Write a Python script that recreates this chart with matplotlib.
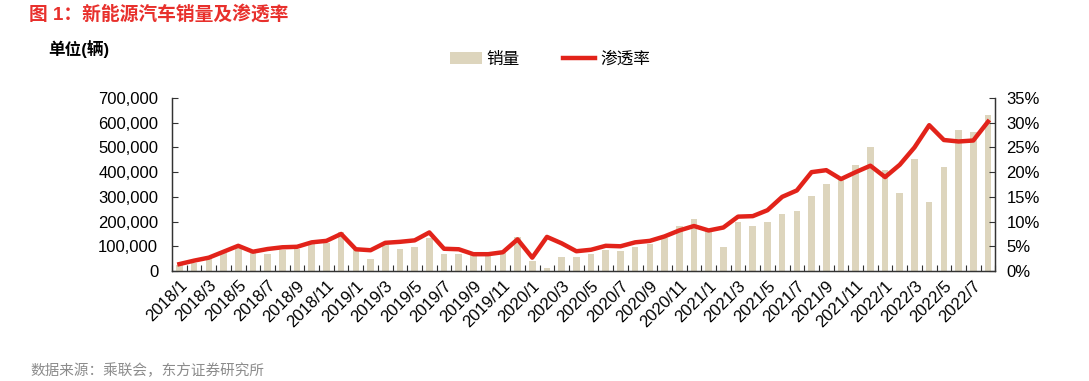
import numpy as np
import matplotlib
matplotlib.use("Agg")
import matplotlib.pyplot as plt
from matplotlib.lines import Line2D
from matplotlib.patches import Patch
from matplotlib.ticker import FuncFormatter, MultipleLocator

plt.rcParams["font.family"] = ["Liberation Sans", "Noto Sans CJK SC", "DejaVu Sans"]

# ---- data --------------------------------------------------------------
months = [f"{y}/{m}" for y in range(2018, 2023) for m in range(1, 13)][:56]

sales = [25000, 31000, 51000, 72000, 92000, 76000, 69000, 85000, 88000, 112000,
         115000, 159000, 85000, 49000, 105000, 89000, 96000, 132000, 68000, 70000,
         65000, 63000, 75000, 136000, 42000, 13000, 55000, 58000, 70000, 86000,
         80000, 99000, 109000, 132000, 182000, 210000, 162000, 99000, 200000, 184000,
         197000, 231000, 244000, 304000, 352000, 368000, 428000, 503000, 410000, 316000,
         453000, 279000, 420000, 571000, 563000, 632000]

penetration = [1.4, 2.1, 2.7, 3.9, 5.1, 3.9, 4.45, 4.8, 4.9, 5.8,
               6.1, 7.5, 4.4, 4.2, 5.7, 5.9, 6.2, 7.8, 4.5, 4.4,
               3.4, 3.4, 3.8, 6.4, 2.7, 6.9, 5.6, 4.0, 4.3, 5.1,
               5.0, 5.8, 6.1, 7.0, 8.2, 9.1, 8.2, 8.8, 11.0, 11.1,
               12.3, 15.0, 16.3, 20.0, 20.4, 18.6, 20.0, 21.3, 19.0, 21.5,
               25.0, 29.5, 26.5, 26.2, 26.4, 30.2]

BAR = "#DDD5BD"
RED = "#E2231A"
AXC = "#333333"
FS = 12

fig = plt.figure(figsize=(10.89, 3.81), dpi=100)
ax = fig.add_axes([0.158, 0.2887, 0.756, 0.4541])
ax2 = ax.twinx()

x = np.arange(len(months))
ax.bar(x, sales, width=0.45, color=BAR, zorder=2)
ax2.plot(x, penetration, color=RED, lw=3.2, solid_joinstyle="round", zorder=3)

ax.set_xlim(-0.5, len(months) - 0.5)
ax.set_ylim(0, 700000)
ax2.set_ylim(0, 35)
ax.yaxis.set_major_locator(MultipleLocator(100000))
ax2.yaxis.set_major_locator(MultipleLocator(5))
ax.yaxis.set_major_formatter(FuncFormatter(lambda v, p: f"{int(v):,}"))
ax2.yaxis.set_major_formatter(FuncFormatter(lambda v, p: f"{int(v)}%"))

# category-boundary ticks, labels every other month
ax.set_xticks(np.arange(-0.5, len(months), 1.0))
ax.set_xticklabels([])
ax.set_xticks(x[::2], minor=True)
ax.set_xticklabels(months[::2], minor=True, rotation=45, ha="right",
                   rotation_mode="anchor", fontsize=FS)
ax.tick_params(axis="x", which="minor", length=0, pad=5)
ax.tick_params(axis="x", which="major", direction="in", length=4, color=AXC)
ax.tick_params(axis="y", direction="in", length=4, labelsize=FS, color=AXC, pad=10)
ax2.tick_params(axis="y", direction="in", length=4, labelsize=FS, color=AXC, pad=8)

for a in (ax, ax2):
    a.spines["top"].set_visible(False)
    for s in ("left", "right", "bottom"):
        a.spines[s].set_color(AXC)
        a.spines[s].set_linewidth(0.9)

# legend
handles = [Patch(facecolor=BAR, edgecolor="none"),
           Line2D([0], [0], color=RED, lw=3.2)]
fig.legend(handles, ["销量", "渗透率"], loc="center", bbox_to_anchor=(0.505, 0.845),
           ncol=2, frameon=False, fontsize=FS, handlelength=1.9, handletextpad=0.3,
           columnspacing=2.6)

fig.text(0.027, 0.962, "图 1：新能源汽车销量及渗透率", color="#E8302C",
         fontsize=13.5, fontweight="bold", va="center")
fig.text(0.044, 0.872, "单位(辆)", color="black", fontsize=12, fontweight="bold",
         va="center")
fig.text(0.028, 0.028, "数据来源：乘联会，东方证券研究所", color="#8c8c8c",
         fontsize=10.5, va="center")

fig.savefig("out.png", dpi=100, facecolor="white")
